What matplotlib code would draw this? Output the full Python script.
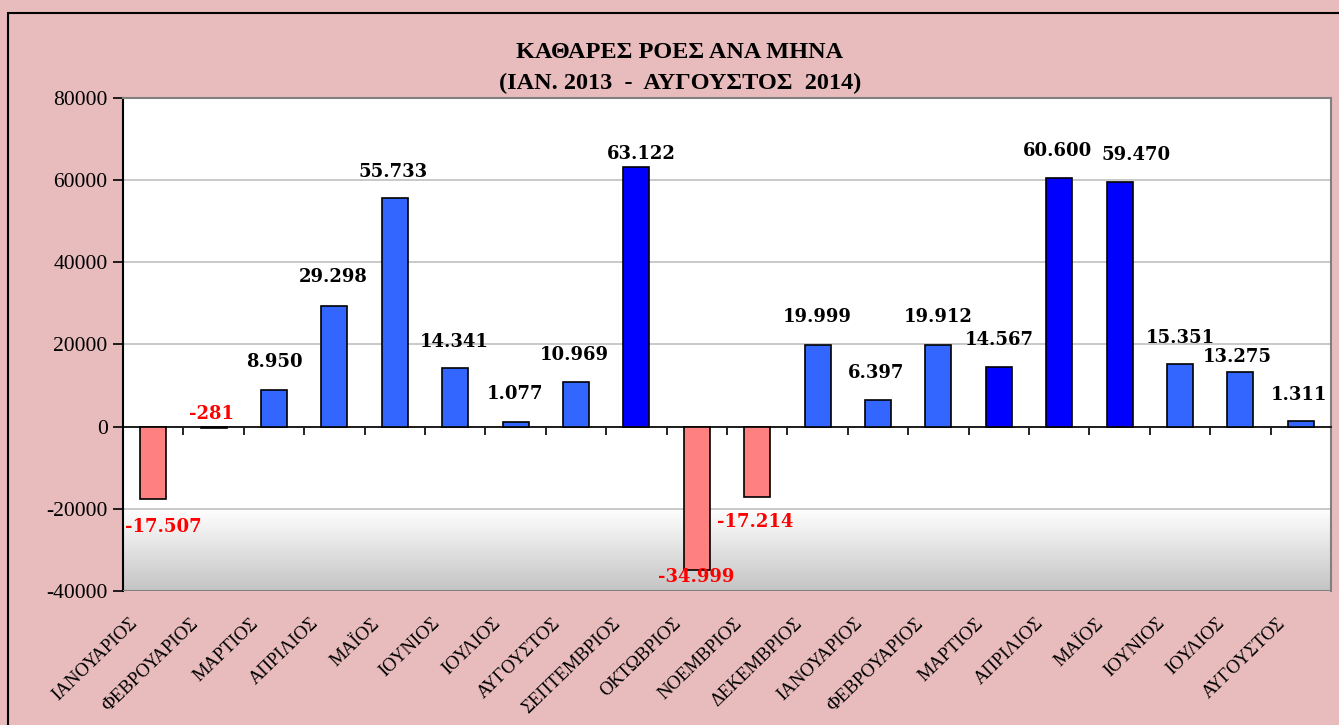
import matplotlib.pyplot as plt
import numpy as np
from matplotlib.colors import LinearSegmentedColormap
from matplotlib.patches import Rectangle
from matplotlib.lines import Line2D
import matplotlib.transforms as mtransforms

months = ["ΙΑΝΟΥΑΡΙΟΣ", "ΦΕΒΡΟΥΑΡΙΟΣ", "ΜΑΡΤΙΟΣ", "ΑΠΡΙΛΙΟΣ", "ΜΑΪΟΣ", "ΙΟΥΝΙΟΣ",
          "ΙΟΥΛΙΟΣ", "ΑΥΓΟΥΣΤΟΣ", "ΣΕΠΤΕΜΒΡΙΟΣ", "ΟΚΤΩΒΡΙΟΣ", "ΝΟΕΜΒΡΙΟΣ", "ΔΕΚΕΜΒΡΙΟΣ",
          "ΙΑΝΟΥΑΡΙΟΣ", "ΦΕΒΡΟΥΑΡΙΟΣ", "ΜΑΡΤΙΟΣ", "ΑΠΡΙΛΙΟΣ", "ΜΑΪΟΣ", "ΙΟΥΝΙΟΣ",
          "ΙΟΥΛΙΟΣ", "ΑΥΓΟΥΣΤΟΣ"]
net_flows = [-17507, -281, 8950, 29298, 55733, 14341, 1077, 10969, 63122, -34999,
             -17214, 19999, 6397, 19912, 14567, 60600, 59470, 15351, 13275, 1311]
y_ticks = [-40000, -20000, 0, 20000, 40000, 60000, 80000]

# months drawn in the darker blue
strong = [8, 14, 15, 16]
# label offsets in pixels (dx, dy up) from the bar end
label_off = [(10, -28), (-2, 14), (0, 28), (-1, 29), (-2, 26), (-1, 26), (-1, 28),
             (-2, 27), (5, 13), (-1, -7), (-2, -25), (0, 28), (-2, 27), (0, 28),
             (0, 27), (-2, 27), (16, 27), (0, 26), (-3, 15), (-2, 26)]

W, H = 1339, 725
fig = plt.figure(figsize=(W / 100, H / 100), dpi=100)
fig.patch.set_facecolor("#e8bbbc")
fig.patches.append(Rectangle((8 / W, -0.1), 1.2, 1 - 13 / H + 0.1, transform=fig.transFigure,
                             fill=False, edgecolor="black", linewidth=1.5))

ax = fig.add_axes([123 / W, 1 - 591 / H, (1331 - 123) / W, (591 - 98) / H])
ax.set_facecolor("white")

x = np.arange(len(net_flows))
colors = []
for i, v in enumerate(net_flows):
    if v < 0:
        colors.append("#ff8080")
    elif i in strong:
        colors.append("#0000ff")
    else:
        colors.append("#3366ff")

ax.bar(x, net_flows, width=0.43, color=colors, edgecolor="black", linewidth=1.2, zorder=3)

cmap = LinearSegmentedColormap.from_list("g", ["white", "#c4c4c4"])
ax.imshow(np.linspace(0, 1, 200).reshape(-1, 1), extent=(-0.5, 19.5, -40000, -20000),
          aspect="auto", cmap=cmap, zorder=0)

ax.set_xlim(-0.5, 19.5)
ax.set_ylim(-40000, 80000)
ax.set_yticks(y_ticks)
ax.set_yticklabels([str(t) for t in y_ticks], fontfamily="Liberation Serif", fontsize=15.5)
ax.yaxis.grid(True, color="#c0c0c0", linewidth=1.2, zorder=1)
ax.set_axisbelow(True)
ax.tick_params(axis="y", direction="out", length=7, width=1.2, color="black", pad=4)

ax.spines["bottom"].set_position(("data", 0))
ax.spines["bottom"].set_linewidth(1.2)
ax.spines["left"].set_linewidth(1.5)
ax.spines["top"].set_color("#808080")
ax.spines["right"].set_color("#808080")
ax.spines["top"].set_linewidth(1.5)
ax.spines["right"].set_linewidth(1.5)
ax.add_line(Line2D([0, 1], [0, 0], transform=ax.transAxes, color="#808080", linewidth=1.5, zorder=5))

ax.set_xticks(np.arange(-0.5, 20, 1))
ax.set_xticklabels([])
ax.tick_params(axis="x", direction="out", length=6, width=1.2, color="black")

for i, v in enumerate(net_flows):
    txt = f"{v:,}".replace(",", ".")
    dx, dy = label_off[i]
    ax.annotate(txt, (x[i], v), xytext=(dx * 0.72, dy * 0.72), textcoords="offset points",
                ha="center", va="center", fontfamily="DejaVu Serif", fontweight="bold",
                fontsize=13, color="red" if v < 0 else "black", zorder=6,
                annotation_clip=False)

trans = mtransforms.blended_transform_factory(ax.transData, ax.transAxes)
shift = mtransforms.ScaledTranslation(-18 / 100, -30 / 100, fig.dpi_scale_trans)
for i, m in enumerate(months):
    ax.text(x[i], 0, m, transform=trans + shift, rotation=44, rotation_mode="anchor",
            ha="right", va="center", fontfamily="Liberation Serif", fontsize=13.5)

fig.text(680 / W, 1 - 52 / H, "ΚΑΘΑΡΕΣ ΡΟΕΣ ΑΝΑ ΜΗΝΑ", ha="center", va="center",
         fontfamily="Liberation Serif", fontweight="bold", fontsize=17.5)
fig.text(680 / W, 1 - 83 / H, "(ΙΑΝ. 2013  -  ΑΥΓΟΥΣΤΟΣ  2014)", ha="center", va="center",
         fontfamily="Liberation Serif", fontweight="bold", fontsize=17.5)

fig.savefig("out.png", dpi=100, facecolor=fig.get_facecolor())
